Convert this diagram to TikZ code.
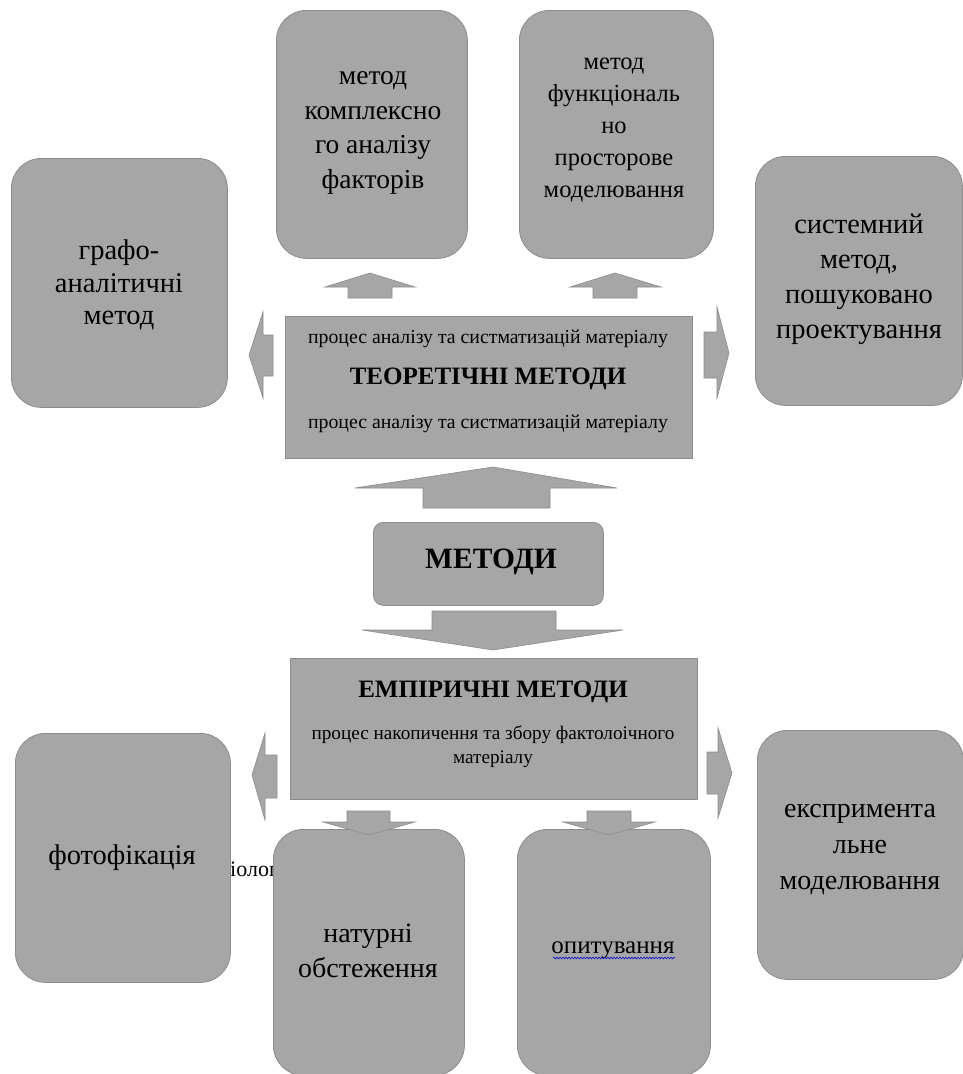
\documentclass[tikz,border=0pt]{standalone}
\usepackage{fontspec}
\setmainfont{Liberation Serif}
\newfontfamily\tnr{Liberation Serif}
\usetikzlibrary{decorations.pathmorphing}
\definecolor{boxgray}{HTML}{A6A6A6}
\definecolor{bordergray}{HTML}{8C8C8C}
\begin{document}
\begin{tikzpicture}[x=1pt,y=-1pt,
  rbox/.style={draw=bordergray, fill=boxgray, line width=0.8pt, rounded corners=30pt, anchor=north west, inner sep=0pt},
  sbox/.style={draw=bordergray, fill=boxgray, line width=0.8pt, anchor=north west, inner sep=0pt},
  blk/.style={draw=bordergray, fill=boxgray, line width=0.6pt},
  txt/.style={align=center, inner sep=0pt, text=black}]
\clip (0,0) rectangle (963,1074);
\fill[white] (0,0) rectangle (963,1074);

% top boxes
\node[rbox, minimum width=191pt, minimum height=248pt] (kompl) at (276,10) {};
\node[txt, font={\tnr\fontsize{27.5}{34.5}\selectfont}] (komplt) at (373,133) {метод\\комплексно\\го аналізу\\факторів};
\node[rbox, minimum width=194pt, minimum height=248pt] (funk) at (519,10) {};
\node[txt, font={\tnr\fontsize{24.5}{32}\selectfont}] (funkt) at (614,130) {метод\\функціональ\\но\\просторове\\моделювання};
\node[rbox, minimum width=216pt, minimum height=249pt] (grafo) at (11,158) {};
\node[txt, font={\tnr\fontsize{28.5}{32.5}\selectfont}] (grafot) at (119,285) {графо-\\аналітичні\\метод};
\node[rbox, minimum width=207pt, minimum height=249pt] (syst) at (755,156) {};
\node[txt, font={\tnr\fontsize{28.5}{35}\selectfont}] (systt) at (859,279) {системний\\метод,\\пошуковано\\проектування};

% theoretical
\node[sbox, minimum width=407pt, minimum height=142pt] (teor) at (285,316) {};
\node[txt, font={\tnr\fontsize{19.8}{22}\selectfont}] (teor1) at (488,339) {процес аналізу та систматизацій матеріалу};
\node[txt, font={\tnr\fontsize{25}{28}\selectfont\bfseries}] (teor2) at (488,379) {ТЕОРЕТІЧНІ МЕТОДИ};
\node[txt, font={\tnr\fontsize{19.8}{22}\selectfont}] (teor3) at (488,424) {процес аналізу та систматизацій матеріалу};

% methods
\node[sbox, rounded corners=10pt, minimum width=230pt, minimum height=83pt] (met) at (373,522) {};
\node[txt, font={\tnr\fontsize{29.5}{34}\selectfont\bfseries}] (mett) at (491,562) {МЕТОДИ};

% empirical
\node[sbox, minimum width=407pt, minimum height=141pt] (emp) at (290,658) {};
\node[txt, font={\tnr\fontsize{25}{28}\selectfont\bfseries}] (emp1) at (493,692) {ЕМПІРИЧНІ МЕТОДИ};
\node[txt, font={\tnr\fontsize{19.2}{24}\selectfont}] (emp2) at (493,747) {процес накопичення та збору фактолоічного\\матеріалу};

% hidden text fragment
\node[txt, anchor=west, font={\tnr\fontsize{22}{26}\selectfont}] (frag) at (230,869) {іолог};

% bottom boxes
\node[rbox, minimum width=215pt, minimum height=249pt] (foto) at (15,733) {};
\node[txt, font={\tnr\fontsize{28.5}{32}\selectfont}] (fotot) at (122,858) {фотофікація};
\node[rbox, minimum width=191pt, minimum height=246pt] (nat) at (273,829) {};
\node[txt, font={\tnr\fontsize{28}{35}\selectfont}] (natt) at (368,951) {натурні\\обстеження};
\node[rbox, minimum width=193pt, minimum height=246pt] (opyt) at (517,829) {};
\node[txt, font={\tnr\fontsize{25}{29}\selectfont}] (opytt) at (613,950) {опитування};
\draw[blue!80!black, line width=0.6pt, decorate, decoration={snake, amplitude=0.8pt, segment length=3pt}] (553,958) -- (675,958);
\node[rbox, minimum width=206pt, minimum height=249pt] (eksp) at (757,730) {};
\node[txt, font={\tnr\fontsize{28}{36}\selectfont}] (ekspt) at (860,850) {експримента\\льне\\моделювання};

% block arrows
\draw[blk] (370,273) -- (415,287) -- (392,287) -- (392,298) -- (348,298) -- (348,287) -- (325,287) -- cycle;
\draw[blk] (615,273) -- (661,287) -- (637,287) -- (637,298) -- (593,298) -- (593,287) -- (570,287) -- cycle;
\draw[blk] (249,355) -- (263,312) -- (263,335) -- (273,335) -- (273,376) -- (263,376) -- (263,398) -- cycle;
\draw[blk] (729,353) -- (717,307) -- (717,332) -- (704,332) -- (704,378) -- (717,378) -- (717,398) -- cycle;
\draw[blk] (493,467) -- (617,488) -- (550,488) -- (550,508) -- (423,508) -- (423,488) -- (355,488) -- cycle;
\draw[blk] (493,650) -- (623,630) -- (556,630) -- (556,611) -- (432,611) -- (432,630) -- (362,630) -- cycle;
\draw[blk] (252,775) -- (265,733) -- (265,755) -- (277,755) -- (277,798) -- (265,798) -- (265,820) -- cycle;
\draw[blk] (732,773) -- (718,728) -- (718,752) -- (707,752) -- (707,794) -- (718,794) -- (718,818) -- cycle;
\draw[blk] (369,835) -- (415,822) -- (390,822) -- (390,811) -- (347,811) -- (347,822) -- (323,822) -- cycle;
\draw[blk] (609,835) -- (655,822) -- (631,822) -- (631,811) -- (587,811) -- (587,822) -- (563,822) -- cycle;
\end{tikzpicture}
\end{document}
